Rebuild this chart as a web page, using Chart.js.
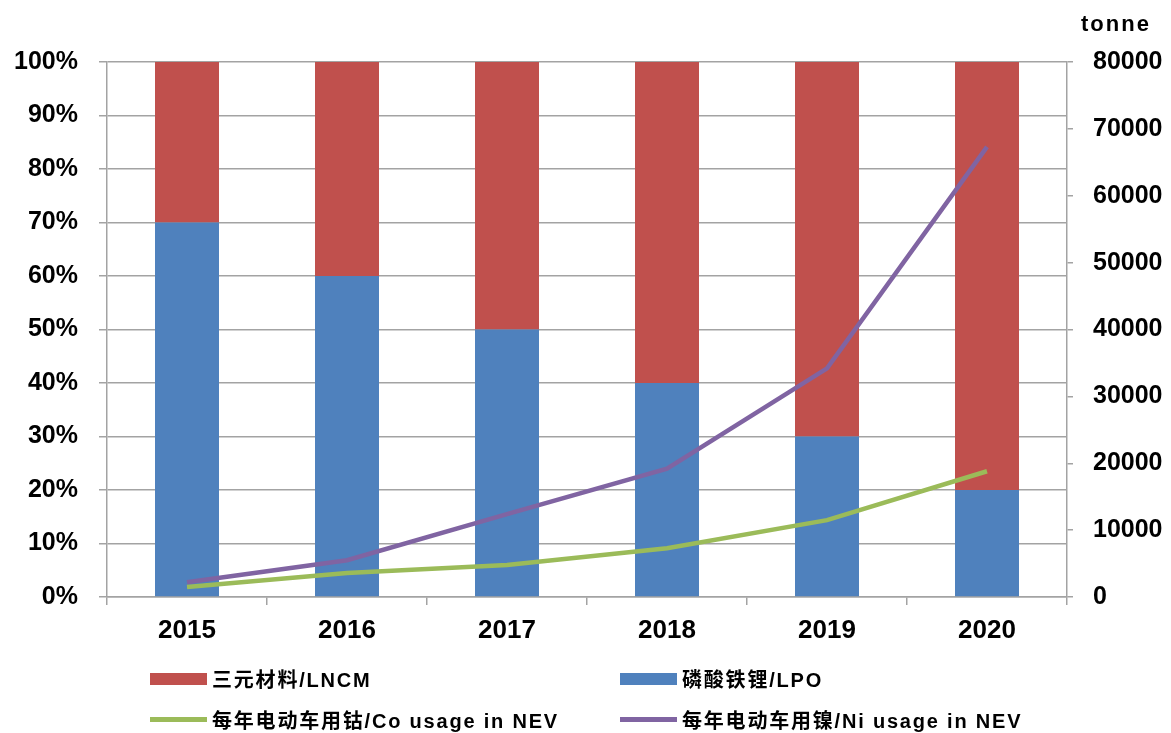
<!DOCTYPE html>
<html>
<head>
<meta charset="utf-8">
<script src="https://cdn.jsdelivr.net/npm/chart.js@4/dist/chart.umd.min.js"></script>
<style>
  html, body { margin: 0; padding: 0; background: #fff; }
  #wrap { position: relative; width: 1171px; height: 733px; }
  #unit { position: absolute; left: 1081px; top: 11px; font: bold 22px "Liberation Sans", Arial, sans-serif; letter-spacing: 2px; color: #000; }
  .lg { position: absolute; display: flex; align-items: center; font: bold 20px "Liberation Sans", "Noto Sans CJK SC", sans-serif; letter-spacing: 1.8px; color: #000; white-space: nowrap; }
  .lg .sw { width: 57px; margin-right: 5px; }
</style>
</head>
<body>
<div id="wrap">
  <canvas id="myChart" width="1171" height="733"></canvas>
  <div id="unit">tonne</div>
  <div id="legend"></div>
</div>
<script>
const years = ['2015', '2016', '2017', '2018', '2019', '2020'];
const lncmShare = [30, 40, 50, 60, 70, 80];
const lpoShare = [70, 60, 50, 40, 30, 20];
const coUsage = [1500, 3600, 4800, 7300, 11500, 18800];
const niUsage = [2200, 5500, 12400, 19200, 34200, 67300];
const labels = ['三元材料/LNCM', '磷酸铁锂/LPO', '每年电动车用钴/Co usage in NEV', '每年电动车用镍/Ni usage in NEV'];

const gridGray = '#a3a3a3';
const tickFont = { family: '"Liberation Sans", Arial, sans-serif', size: 25, weight: 'bold' };

const canvas = document.getElementById('myChart');
const ctx = canvas.getContext('2d');

const chart = new Chart(ctx, {
  type: 'bar',
  data: {
    labels: years,
    datasets: [
      { type: 'line', label: labels[2], data: coUsage, yAxisID: 'y2', borderColor: '#9bbb59', borderWidth: 4.5, pointRadius: 0, tension: 0, order: 0 },
      { type: 'line', label: labels[3], data: niUsage, yAxisID: 'y2', borderColor: '#8064a2', borderWidth: 4.5, pointRadius: 0, tension: 0, order: 0 },
      { label: labels[1], data: lpoShare, backgroundColor: '#4f81bd', stack: 's', order: 1, barPercentage: 0.4, categoryPercentage: 1 },
      { label: labels[0], data: lncmShare, backgroundColor: '#c0504d', stack: 's', order: 1, barPercentage: 0.4, categoryPercentage: 1 },
    ],
  },
  options: {
    responsive: false,
    animation: false,
    layout: { padding: { top: 62, bottom: 86, left: 0, right: 0 } },
    plugins: { legend: { display: false }, tooltip: { enabled: false } },
    scales: {
      x: {
        stacked: true,
        grid: { drawOnChartArea: false, color: gridGray, lineWidth: 1.5, tickLength: 8 },
        border: { color: gridGray, width: 1.5 },
        ticks: { color: '#000', font: { ...tickFont, size: 26 }, padding: 10 },
        afterFit: (s) => { s.height = 50; },
      },
      y: {
        stacked: true,
        position: 'left',
        min: 0, max: 100,
        grid: { color: gridGray, lineWidth: 1.5, tickLength: 8 },
        border: { color: gridGray, width: 1.5 },
        ticks: { stepSize: 10, color: '#000', font: tickFont, padding: 21, callback: (v) => v + '%' },
        afterFit: (s) => { s.width = 107; },
      },
      y2: {
        position: 'right',
        min: 0, max: 80000,
        grid: { drawOnChartArea: false, color: gridGray, lineWidth: 1.5, tickLength: 6 },
        border: { color: gridGray, width: 1.5 },
        ticks: { stepSize: 10000, color: '#000', font: tickFont, padding: 20, callback: (v) => String(v) },
        afterFit: (s) => { s.width = 104; },
      },
    },
  },
});

// html legend laid out 2 x 2 like the original
const legendPos = [
  { i: 3, left: 150, top: 664 },
  { i: 2, left: 620, top: 664 },
  { i: 0, left: 150, top: 705 },
  { i: 1, left: 620, top: 705 },
];
const legendEl = document.getElementById('legend');
legendPos.forEach((p) => {
  const ds = chart.data.datasets[p.i];
  const item = document.createElement('div');
  item.className = 'lg';
  item.style.left = p.left + 'px';
  item.style.top = p.top + 'px';
  const sw = document.createElement('span');
  sw.className = 'sw';
  if (ds.type === 'line') {
    sw.style.height = '5px';
    sw.style.background = ds.borderColor;
  } else {
    sw.style.height = '12px';
    sw.style.background = ds.backgroundColor;
  }
  item.appendChild(sw);
  item.appendChild(document.createTextNode(ds.label));
  legendEl.appendChild(item);
});
</script>
</body>
</html>
